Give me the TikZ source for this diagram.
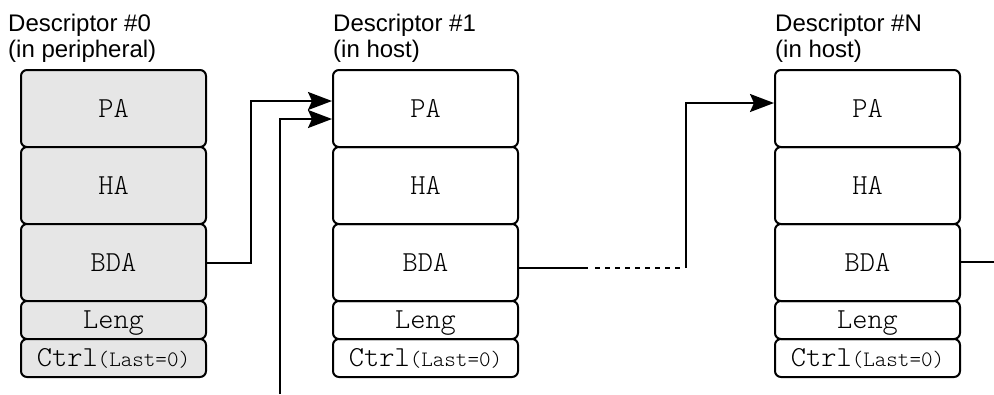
\documentclass[tikz,border=0pt]{standalone}
\usepackage{fontspec}
\setmainfont{Liberation Sans}
\newfontfamily\cellfont{lmmonolt10-regular.otf}
\usetikzlibrary{arrows.meta,calc}
\definecolor{periphfill}{RGB}{230,230,230}
\newcommand{\lastflag}{{\fontsize{22}{22}\selectfont(Last=0)}}
\begin{document}
\begin{tikzpicture}[x=1pt,y=-1pt,
  cell/.style={draw=black, line width=2pt, rounded corners=6pt,
    minimum width=185pt, inner sep=0pt, anchor=north west,
    font=\cellfont\fontsize{29}{29}\selectfont,
    text height=17.5pt, text depth=0pt},
  tall/.style={cell, minimum height=77pt},
  short/.style={cell, minimum height=38pt},
  periph/.style={fill=periphfill},
  title/.style={anchor=base west, inner sep=0pt,
    font=\fontsize{24}{26}\selectfont},
  conn/.style={line width=2pt},
  arrowed/.style={-{Stealth[length=24pt,width=18pt,inset=4pt]}},
]
\useasboundingbox (0,0) rectangle (994,394);

% Descriptor #0, held in the peripheral
\node[title] (t0) at (8,31) {Descriptor \#0};
\node[title] (s0) at (8,57) {(in peripheral)};
\node[tall,periph]  (p0) at (20,69)  {PA};
\node[tall,periph]  (h0) at (20,146) {HA};
\node[tall,periph]  (b0) at (20,223) {BDA};
\node[short,periph] (l0) at (20,300) {Leng};
\node[short,periph] (k0) at (20,338) {Ctrl\lastflag};

% Descriptor #1, in host memory
\node[title] (t1) at (333,31) {Descriptor \#1};
\node[title] (s1) at (333,57) {(in host)};
\node[tall]  (p1) at (332,69)  {PA};
\node[tall]  (h1) at (332,146) {HA};
\node[tall]  (b1) at (332,223) {BDA};
\node[short] (l1) at (332,300) {Leng};
\node[short] (k1) at (332,338) {Ctrl\lastflag};

% Descriptor #N, in host memory
\node[title] (tN) at (775,31) {Descriptor \#N};
\node[title] (sN) at (775,57) {(in host)};
\node[tall]  (pN) at (774,69)  {PA};
\node[tall]  (hN) at (774,146) {HA};
\node[tall]  (bN) at (774,223) {BDA};
\node[short] (lN) at (774,300) {Leng};
\node[short] (kN) at (774,338) {Ctrl\lastflag};

% routing points
\coordinate (j1) at (251,101);
\coordinate (src) at (280,394);
\coordinate (j2) at (280,119);
\coordinate (o1) at (517,268);
\coordinate (d0) at (588,268);
\coordinate (d1) at (595,268);
\coordinate (d2) at (681,268);
\coordinate (j3) at (686,268);
\coordinate (j4) at (686,103);
\coordinate (oN) at (994,262);

% BDA of #0 points to #1
\draw[conn,arrowed] (b0.east) -| (j1) -- (p1.west |- j1);
% incoming pointer from below
\draw[conn,arrowed] (src) -- (j2) -- (p1.west |- j2);
% chain from #1 onwards to #N
\draw[conn] (b1.east |- o1) -- (d0);
\draw[conn,dash pattern=on 5pt off 5pt] (d1) -- (d2);
\draw[conn,arrowed] (j3) -- (j4) -- (pN.west |- j4);
% BDA of #N continues
\draw[conn] (bN.east |- oN) -- (oN);
\end{tikzpicture}
\end{document}
